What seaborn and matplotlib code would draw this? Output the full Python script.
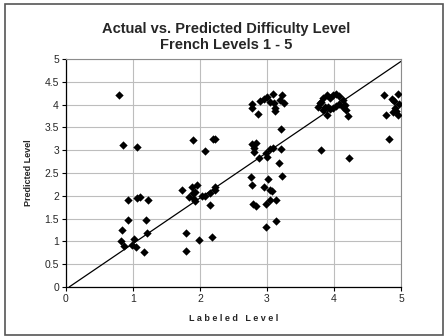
import matplotlib
matplotlib.use("Agg")
import matplotlib.pyplot as plt
import seaborn as sns
import pandas as pd
from matplotlib.patches import Rectangle

# labeled level (x) and predicted level (y)
labeled = [
    0.79, 0.86, 1.06, 0.92, 1.06, 1.11, 1.23, 0.93, 1.19, 0.84, 1.21, 0.82,
    0.87, 0.98, 1.01, 1.05, 1.17,
    1.74, 1.88, 1.96, 1.90, 2.07, 2.20, 2.23, 1.83, 1.89, 1.93, 1.91, 1.93,
    2.03, 2.08, 2.15, 2.22, 2.22, 2.15, 1.79, 1.79, 1.99, 2.18,
    2.78, 2.78, 2.87, 2.90, 2.95, 3.00, 3.09, 3.05, 3.10, 3.12, 3.12, 3.22,
    3.25, 3.20, 3.21, 2.78, 2.80, 2.83, 2.80, 2.88, 2.98, 3.00, 3.05, 3.09,
    3.21, 3.18, 3.23, 2.76, 2.78, 2.96, 3.01, 3.05, 3.07, 2.99, 3.04, 3.13,
    2.79, 2.83, 3.14, 2.99,
    3.81, 4.23, 3.76, 3.79, 3.84, 3.89, 3.94, 3.99, 4.03, 4.08, 4.13, 4.16,
    4.18, 4.21, 3.89, 3.84, 3.91, 3.99, 4.03, 4.08, 3.86, 3.81, 3.94, 4.13,
    4.75, 4.95, 4.86, 4.90, 4.97, 4.78, 4.88, 4.93, 4.95, 4.91, 4.82,
]
predicted = [
    4.21, 3.12, 3.07, 1.91, 1.96, 1.97, 1.91, 1.47, 1.47, 1.25, 1.19, 1.00,
    0.89, 0.91, 1.06, 0.88, 0.76,
    2.13, 2.19, 2.23, 3.22, 2.99, 3.24, 3.25, 1.98, 2.07, 2.08, 1.92, 1.88,
    2.00, 2.00, 2.07, 2.13, 2.19, 1.80, 1.19, 0.78, 1.03, 1.10,
    4.01, 3.92, 3.80, 4.09, 4.12, 4.16, 4.23, 4.07, 4.03, 3.92, 3.87, 4.22,
    4.03, 4.11, 3.46, 3.13, 3.06, 3.15, 2.97, 2.82, 2.93, 2.86, 3.03, 3.06,
    3.03, 2.73, 2.43, 2.41, 2.24, 2.19, 2.38, 2.13, 2.10, 1.81, 1.91, 1.91,
    1.82, 1.78, 1.45, 1.32,
    3.01, 2.82, 3.94, 4.03, 4.14, 4.22, 4.14, 4.22, 4.23, 4.18, 4.11, 4.00,
    3.89, 3.75, 3.78, 3.89, 3.96, 3.92, 3.97, 4.02, 3.96, 4.07, 3.90, 3.96,
    4.22, 4.23, 4.12, 4.09, 4.02, 3.78, 3.85, 3.86, 3.78, 3.92, 3.24,
]
# trend line end points
line_x = [0.05, 5.0]
line_y = [0.0, 4.95]

df = pd.DataFrame({"Labeled Level": labeled, "Predicted Level": predicted})
line_df = pd.DataFrame({"x": line_x, "y": line_y})

sns.set_style("white")
plt.rcParams["font.family"] = ["Liberation Sans", "DejaVu Sans"]

fig = plt.figure(figsize=(4.48, 3.36), dpi=100)
ax = fig.add_axes([0.147, 0.146, 0.748, 0.678])

sns.lineplot(data=line_df, x="x", y="y", color="black", linewidth=0.9, ax=ax)
sns.scatterplot(data=df, x="Labeled Level", y="Predicted Level", marker="D",
                s=18, color="black", edgecolor="black", linewidth=0, ax=ax,
                zorder=3)

ax.set_xlim(0, 5)
ax.set_ylim(0, 5)
ax.set_xticks([0, 1, 2, 3, 4, 5])
ax.set_yticks([0, 0.5, 1, 1.5, 2, 2.5, 3, 3.5, 4, 4.5, 5])
ax.set_yticklabels(["0", "0.5", "1", "1.5", "2", "2.5", "3", "3.5", "4", "4.5", "5"])
ax.grid(True, color="#bdbdbd", linewidth=0.8)
ax.set_axisbelow(True)
ax.tick_params(axis="both", labelsize=7.5, length=3, width=0.8, direction="out",
               color="black", pad=2, left=True, bottom=True)
for side in ["top", "right"]:
    ax.spines[side].set_color("#8c8c8c")
    ax.spines[side].set_linewidth(0.8)
for side in ["left", "bottom"]:
    ax.spines[side].set_color("black")
    ax.spines[side].set_linewidth(0.9)

ax.set_xlabel("L a b e l e d   L e v e l", fontsize=6.5, fontweight="bold", labelpad=7)
ax.set_ylabel("Predicted Level", fontsize=6.5, fontweight="bold", labelpad=8)
fig.text(0.505, 0.915, "Actual vs. Predicted Difficulty Level", ha="center",
         va="center", fontsize=10.5, fontweight="bold")
fig.text(0.505, 0.866, "French Levels 1 - 5", ha="center", va="center",
         fontsize=10.5, fontweight="bold")

fig.patches.append(Rectangle((0.011, 0.003), 0.978, 0.985, transform=fig.transFigure,
                             fill=False, edgecolor="#555555", linewidth=1.2))

fig.savefig("out.png", dpi=100)
